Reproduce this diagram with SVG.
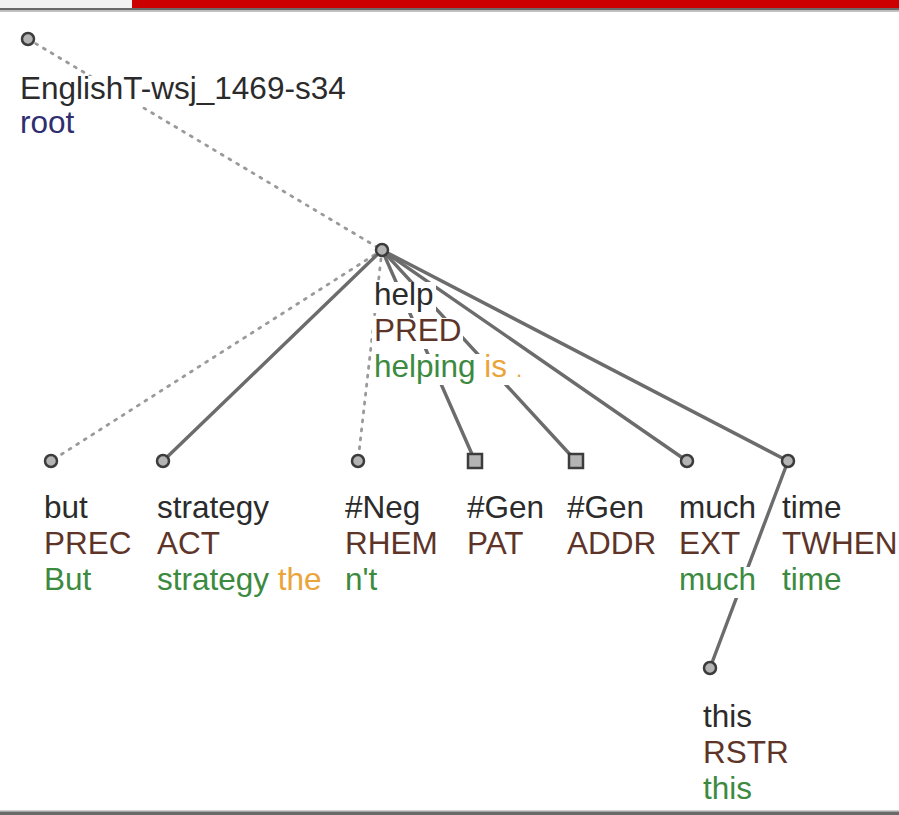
<svg xmlns="http://www.w3.org/2000/svg" width="899" height="815" viewBox="0 0 899 815">
  <style>
    text { font-family: "Liberation Sans", Arial, sans-serif; font-size: 31.5px; }
    .w { fill: #2b2b2b; }
    .f { fill: #5e3428; }
    .r { fill: #2e2e70; }
    .g { fill: #3c8a40; }
    .o { fill: #eba43a; }
    .bg { fill: #ffffff; }
    .node { fill: #b4b4b4; stroke: #3c3c3c; stroke-width: 2.5; }
    .solid { stroke: #6c6c6c; stroke-width: 3.4; fill: none; stroke-linecap: round; }
    .dotted { stroke: #9a9a9a; stroke-width: 2.8; fill: none; stroke-dasharray: 2 7; stroke-linecap: round; }
  </style>

  <rect width="899" height="815" fill="#ffffff"/>

  <!-- page frame bars -->
  <rect x="0" y="0" width="132" height="8" fill="#f2f2f2"/>
  <rect x="132" y="0" width="767" height="8" fill="#cc0000"/>
  <rect x="0" y="8" width="899" height="2.5" fill="#6a6a6a"/>
  <rect x="0" y="10.5" width="899" height="1.5" fill="#c4c4c4"/>
  <rect x="0" y="810" width="899" height="1.5" fill="#cfcfcf"/>
  <rect x="0" y="811.5" width="899" height="3.5" fill="#6a6a6a"/>

  <!-- connectors -->
  <g id="edges">
    <line class="dotted" x1="28" y1="39" x2="382" y2="250"/>
    <line class="dotted" x1="382" y1="250" x2="51" y2="461"/>
    <line class="solid" x1="382" y1="250" x2="163" y2="461"/>
    <line class="dotted" x1="382" y1="250" x2="358" y2="461"/>
    <line class="solid" x1="382" y1="250" x2="475" y2="461"/>
    <line class="solid" x1="382" y1="250" x2="576" y2="461"/>
    <line class="solid" x1="382" y1="250" x2="687" y2="461"/>
    <line class="solid" x1="382" y1="250" x2="788" y2="461"/>
    <line class="solid" x1="788" y1="461" x2="710" y2="668"/>
  </g>

  <!-- root -->
  <g id="node-root">
    <circle class="node" cx="28" cy="39" r="6"/>
    <rect class="bg" x="18" y="76" width="332" height="31"/>
    <rect class="bg" x="18" y="110" width="59" height="31"/>
    <text x="20" y="99" class="w">EnglishT-wsj_1469-s34</text>
    <text x="20" y="133" class="r">root</text>
  </g>

  <!-- help -->
  <g id="node-help">
    <circle class="node" cx="382" cy="250" r="6"/>
    <rect class="bg" x="372" y="282" width="64" height="31"/>
    <rect class="bg" x="372" y="318" width="91" height="31"/>
    <rect class="bg" x="372" y="354" width="146" height="31"/>
    <text x="374" y="305" class="w">help</text>
    <text x="374" y="341" class="f">PRED</text>
    <text x="374" y="377"><tspan class="g">helping</tspan> <tspan class="o">is</tspan> <tspan class="o" font-size="22">.</tspan></text>
  </g>

  <!-- but -->
  <g id="node-but">
    <circle class="node" cx="51" cy="461" r="6"/>
    <rect class="bg" x="42" y="495" width="48" height="31"/>
    <rect class="bg" x="42" y="531" width="91" height="31"/>
    <rect class="bg" x="42" y="567" width="51" height="31"/>
    <text x="44" y="518" class="w">but</text>
    <text x="44" y="554" class="f">PREC</text>
    <text x="44" y="590" class="g">But</text>
  </g>

  <!-- strategy -->
  <g id="node-strategy">
    <circle class="node" cx="163" cy="461" r="6"/>
    <rect class="bg" x="155" y="495" width="116" height="31"/>
    <rect class="bg" x="155" y="531" width="67" height="31"/>
    <rect class="bg" x="155" y="567" width="170" height="31"/>
    <text x="157" y="518" class="w">strategy</text>
    <text x="157" y="554" class="f">ACT</text>
    <text x="157" y="590"><tspan class="g">strategy</tspan> <tspan class="o">the</tspan></text>
  </g>

  <!-- #Neg -->
  <g id="node-neg">
    <circle class="node" cx="358" cy="461" r="6"/>
    <rect class="bg" x="343" y="495" width="79" height="31"/>
    <rect class="bg" x="343" y="531" width="96" height="31"/>
    <rect class="bg" x="343" y="567" width="37" height="31"/>
    <text x="345" y="518" class="w">#Neg</text>
    <text x="345" y="554" class="f">RHEM</text>
    <text x="345" y="590" class="g">n't</text>
  </g>

  <!-- #Gen (PAT) -->
  <g id="node-gen-pat">
    <rect class="node" x="468" y="454" width="14" height="14"/>
    <rect class="bg" x="465" y="495" width="81" height="31"/>
    <rect class="bg" x="465" y="531" width="65" height="31"/>
    <text x="467" y="518" class="w">#Gen</text>
    <text x="467" y="554" class="f">PAT</text>
  </g>

  <!-- #Gen (ADDR) -->
  <g id="node-gen-addr">
    <rect class="node" x="569" y="454" width="14" height="14"/>
    <rect class="bg" x="565" y="495" width="81" height="31"/>
    <rect class="bg" x="565" y="531" width="93" height="31"/>
    <text x="567" y="518" class="w">#Gen</text>
    <text x="567" y="554" class="f">ADDR</text>
  </g>

  <!-- much -->
  <g id="node-much">
    <circle class="node" cx="687" cy="461" r="6"/>
    <rect class="bg" x="677" y="495" width="81" height="31"/>
    <rect class="bg" x="677" y="531" width="65" height="31"/>
    <rect class="bg" x="677" y="567" width="81" height="31"/>
    <text x="679" y="518" class="w">much</text>
    <text x="679" y="554" class="f">EXT</text>
    <text x="679" y="590" class="g">much</text>
  </g>

  <!-- time -->
  <g id="node-time">
    <circle class="node" cx="788" cy="461" r="6"/>
    <rect class="bg" x="780" y="495" width="64" height="31"/>
    <rect class="bg" x="780" y="531" width="119" height="31"/>
    <rect class="bg" x="780" y="567" width="64" height="31"/>
    <text x="782" y="518" class="w">time</text>
    <text x="782" y="554" class="f">TWHEN</text>
    <text x="782" y="590" class="g">time</text>
  </g>

  <!-- this -->
  <g id="node-this">
    <circle class="node" cx="710" cy="668" r="6"/>
    <rect class="bg" x="701" y="704" width="53" height="31"/>
    <rect class="bg" x="701" y="740" width="90" height="31"/>
    <rect class="bg" x="701" y="776" width="53" height="31"/>
    <text x="703" y="727" class="w">this</text>
    <text x="703" y="763" class="f">RSTR</text>
    <text x="703" y="799" class="g">this</text>
  </g>
</svg>
